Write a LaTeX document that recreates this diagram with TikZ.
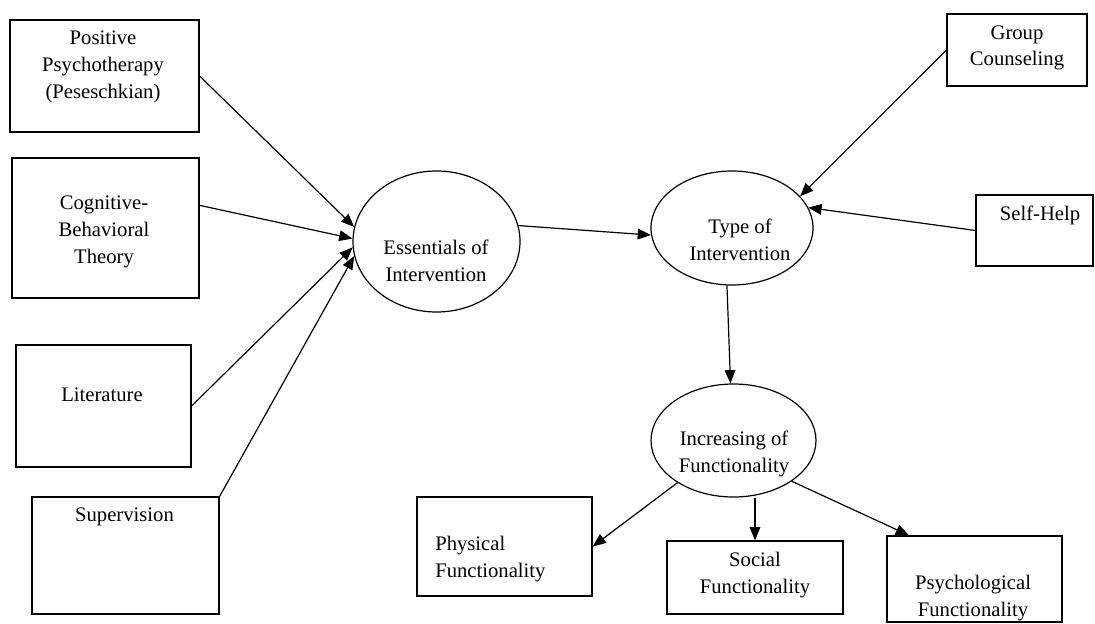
\documentclass[tikz,border=0pt]{standalone}
\usepackage{fontspec}
\setmainfont{Liberation Serif}
\usetikzlibrary{arrows.meta}
\usetikzlibrary{shapes}

\begin{document}
\begin{tikzpicture}[x = 0.75pt, y = -0.75pt]
\tikzstyle{BoxStyle}=[shape = rectangle,
                      inner sep = 0pt,
                      line width = 0.9pt,
                      draw]
\tikzstyle{EllStyle}=[shape = ellipse,
                      inner sep = 0pt,
                      line width = 0.9pt,
                      draw]
\tikzstyle{TextStyle}=[align = center, inner sep = 0pt,
                       font = \fontsize{15.5}{20}\selectfont]
\tikzstyle{EdgeStyle}=[line width = 0.9pt,
                       -{Triangle[length = 10pt, width = 8pt]}]
\useasboundingbox (0,0) rectangle (1095,624);
% boxes
\node[BoxStyle, minimum width = 189*0.75pt, minimum height = 112*0.75pt] (pos) at (104.5, 76) {};
\node[BoxStyle, minimum width = 187*0.75pt, minimum height = 140*0.75pt] (cog) at (105.5, 228) {};
\node[BoxStyle, minimum width = 175*0.75pt, minimum height = 122*0.75pt] (lit) at (103.5, 406) {};
\node[BoxStyle, minimum width = 187*0.75pt, minimum height = 117*0.75pt] (sup) at (125.5, 555.5) {};
\node[BoxStyle, minimum width = 140*0.75pt, minimum height = 72*0.75pt] (grp) at (1017, 50) {};
\node[BoxStyle, minimum width = 117*0.75pt, minimum height = 71*0.75pt] (slf) at (1034.5, 230.5) {};
\node[BoxStyle, minimum width = 175*0.75pt, minimum height = 99*0.75pt] (phy) at (504.5, 546.5) {};
\node[BoxStyle, minimum width = 176*0.75pt, minimum height = 73*0.75pt] (soc) at (755, 577.5) {};
\node[BoxStyle, minimum width = 175*0.75pt, minimum height = 86*0.75pt] (psy) at (974.5, 579) {};
% ellipses
\node[EllStyle, minimum width = 167*0.75pt, minimum height = 141*0.75pt] (ess) at (436.5, 241.5) {};
\node[EllStyle, minimum width = 162*0.75pt, minimum height = 114*0.75pt] (typ) at (732, 228) {};
\node[EllStyle, minimum width = 165*0.75pt, minimum height = 113*0.75pt] (inc) at (733.5, 440.5) {};
% texts
\node[TextStyle] (post) at (103, 67) {Positive\\Psychotherapy\\(Peseschkian)};
\node[TextStyle] (cogt) at (104, 232) {Cognitive-\\Behavioral\\Theory};
\node[TextStyle] (litt) at (102, 395) {Literature};
\node[TextStyle] (supt) at (124.5, 517) {Supervision};
\node[TextStyle] (grpt) at (1017, 48) {Group\\Counseling};
\node[TextStyle] (slft) at (1040, 215) {Self-Help};
\node[TextStyle] (esst) at (436, 261) {Essentials of\\Intervention};
\node[TextStyle] (typt) at (740, 240) {Type of\\Intervention};
\node[TextStyle] (inct) at (734, 454) {Increasing of\\Functionality};
\node[TextStyle, anchor = west, align = left] (phyt) at (435, 559) {Physical\\Functionality};
\node[TextStyle] (soct) at (755, 575) {Social\\Functionality};
\node[TextStyle] (psyt) at (973, 598) {Psychological\\Functionality};
% arrows
\draw[EdgeStyle] (pos.east) -- (ess.170);
\draw[EdgeStyle] ([yshift = 17pt]cog.east) -- (ess.178);
\draw[EdgeStyle] (lit.east) -- (ess.184);
\draw[EdgeStyle] (sup.north east) -- (ess.190);
\draw[EdgeStyle] (ess.11) -- (typ.185);
\draw[EdgeStyle] (grp.west) -- (typ.25);
\draw[EdgeStyle] (slf.west) -- (typ.15);
\draw[EdgeStyle] (typ.265) -- (inc.93);
\draw[EdgeStyle] (inc.217) -- (phy.east);
\draw[EdgeStyle] (soc.north |- inc.south) -- (soc.north);
\draw[EdgeStyle] (inc.325) -- ([xshift = 17pt]psy.north west);
\end{tikzpicture}
\end{document}
